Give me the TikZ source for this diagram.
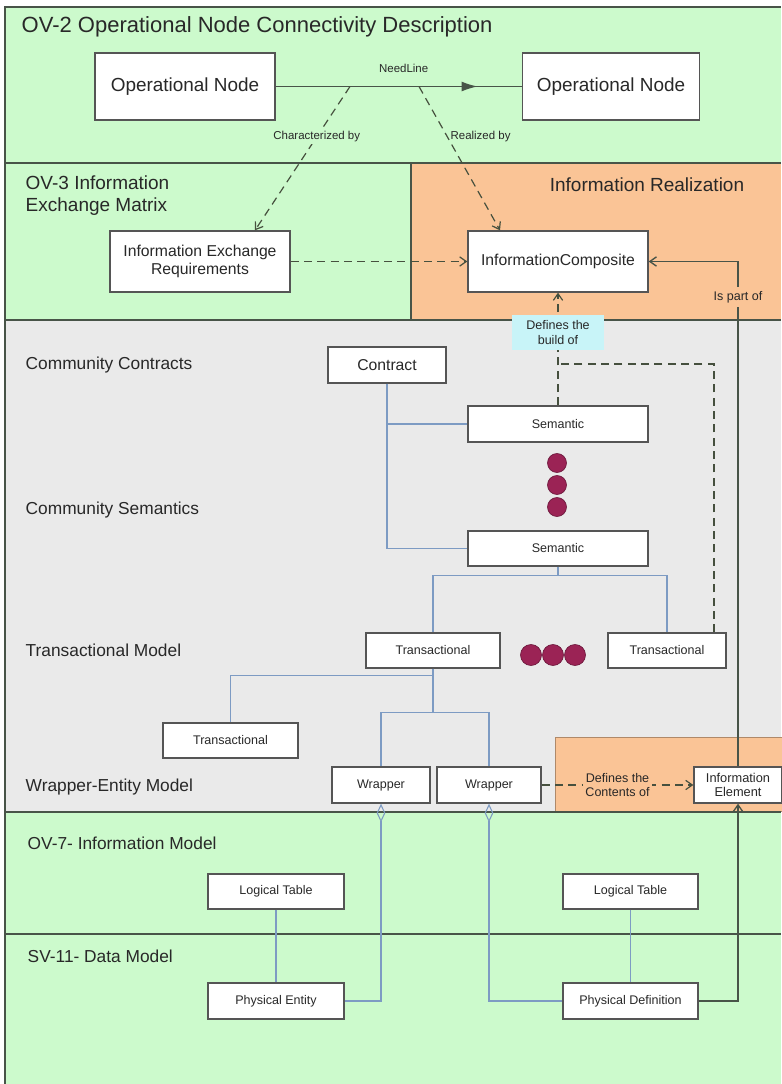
\documentclass[tikz,border=0pt]{standalone}
\usepackage{fontspec}
\setmainfont{Liberation Sans}
\usetikzlibrary{arrows.meta,calc,decorations.markings}
\definecolor{ovgreen}{RGB}{204,250,204}
\definecolor{ovorange}{RGB}{250,196,150}
\definecolor{svgray}{RGB}{234,234,234}
\definecolor{frameline}{RGB}{72,84,72}
\definecolor{boxline}{RGB}{85,85,85}
\definecolor{treeblue}{RGB}{125,155,195}
\definecolor{depline}{RGB}{70,80,62}
\definecolor{dotred}{RGB}{155,35,85}
\definecolor{labelcyan}{RGB}{200,244,248}
\definecolor{txt}{RGB}{40,40,40}
\begin{document}
\begin{tikzpicture}[x=0.75pt,y=-0.75pt,>={Straight Barb[length=5pt,width=7pt]},
 sz/.style 2 args={minimum width=#1*0.75pt,minimum height=#2*0.75pt},
 box/.style={draw=boxline,fill=white,line width=1pt,inner sep=1pt,align=center,text=txt},
 titletxt/.style={font=\fontsize{16.5}{19}\selectfont},
 optxt/.style={font=\fontsize{14.2}{17}\selectfont},
 headtxt/.style={font=\fontsize{14.25}{16.5}\selectfont,text=txt},
 secttxt/.style={anchor=west,text=txt,font=\fontsize{13}{15}\selectfont},
 midtxt/.style={font=\fontsize{11.8}{13.5}\selectfont},
 smalltxt/.style={font=\fontsize{9.4}{11.2}\selectfont,text=txt},
 lbl/.style={font=\fontsize{8.6}{10}\selectfont,text=txt,inner sep=1pt},
 secline/.style={draw=frameline,line width=1.1pt},
 link/.style={draw=treeblue,line width=0.8pt},
 dep/.style={draw=depline,line width=0.9pt,dash pattern=on 6pt off 4pt},
 rail/.style={draw=frameline,line width=1pt},
 dotc/.style={fill=dotred,draw=dotred!70!black,line width=0.5pt},
 agg/.style={{Diamond[open,length=14pt,width=6.5pt]}-}]
 \useasboundingbox (0,0) rectangle (781,1084);
 \fill[ovgreen] (5,7) rectangle (781,1084);
 \fill[ovorange] (411,163) rectangle (781,320);
 \fill[svgray] (5,320) rectangle (781,812);
 \filldraw[fill=ovorange,draw=ovorange!70!black,line width=0.6pt] (555,737) rectangle (790,811);
 \draw[secline] (5,1084) -- (5,7) -- (781,7);
 \draw[secline] (5,163) -- (781,163);
 \draw[secline] (411,163) -- (411,320);
 \draw[secline] (5,320) -- (781,320);
 \draw[secline] (5,812) -- (781,812);
 \draw[secline] (5,934) -- (781,934);

 \node[anchor=west,titletxt,text=txt] (ttl) at (17,27) {OV-2 Operational Node Connectivity Description};
 \node[anchor=west,headtxt,align=left] (ov3) at (21,196) {OV-3 Information\\Exchange Matrix};
 \node[headtxt] (irl) at (647,185) {Information Realization};
 \node[secttxt] (cc) at (21,365) {Community Contracts};
 \node[secttxt] (cs) at (21,510) {Community Semantics};
 \node[secttxt] (tm) at (21,650) {Transactional Model};
 \node[secttxt] (wem) at (21,787) {Wrapper-Entity Model};
 \node[secttxt] (ov7) at (23,843) {OV-7- Information Model};
 \node[secttxt] (sv11) at (23,956) {SV-11- Data Model};

 \node[box,optxt,sz={180}{67}] (op1) at (185,86.5) {Operational Node};
 \node[box,optxt,sz={177}{67}] (op2) at (611,86.5) {Operational Node};
 \node[box,midtxt,sz={180}{61}] (ier) at (200,261.5) {Information Exchange\\Requirements};
 \node[box,midtxt,sz={180}{61}] (ic) at (558,261.5) {InformationComposite};
 \node[box,midtxt,sz={118}{36}] (con) at (387,365) {Contract};
 \node[box,smalltxt,sz={180}{36}] (sem1) at (558,424) {Semantic};
 \node[box,smalltxt,sz={180}{35}] (sem2) at (558,548.5) {Semantic};
 \node[box,smalltxt,sz={134}{35}] (trL) at (433,650.5) {Transactional};
 \node[box,smalltxt,sz={118}{35}] (trR) at (667,650.5) {Transactional};
 \node[box,smalltxt,sz={135}{35}] (tr3) at (230.5,740.5) {Transactional};
 \node[box,smalltxt,sz={98}{36}] (wr1) at (381,785) {Wrapper};
 \node[box,smalltxt,sz={104}{36}] (wr2) at (489,785) {Wrapper};
 \node[box,smalltxt,sz={88}{36},font=\fontsize{9.6}{10.8}\selectfont] (ie) at (738,785) {Information\\Element};
 \node[box,smalltxt,sz={136}{35}] (lt1) at (276,891.5) {Logical Table};
 \node[box,smalltxt,sz={135}{35}] (lt2) at (630.5,891.5) {Logical Table};
 \node[box,smalltxt,sz={136}{36}] (pe) at (276,1001) {Physical Entity};
 \node[box,smalltxt,sz={135}{36}] (pd) at (630.5,1001) {Physical Definition};

 \foreach \y in {463,485,507} \filldraw[dotc] (557,\y) circle (9.5);
 \foreach \x in {531,553,575} \filldraw[dotc] (\x,655) circle (10.5);

 \draw[rail,postaction={decorate},decoration={markings,mark=at position 0.82 with {\arrow{Latex[length=12pt,width=7.5pt]}}}]
  (op1) -- node[lbl,pos=0.52,above=9pt] (nl) {NeedLine} (op2);
 \coordinate (cb) at (350,86.5);
 \coordinate (rb) at (419,86.5);
 \draw[dep,->] (cb) -- node[lbl,pos=0.35,fill=ovgreen] (chl) {Characterized by} ($(ier.north)+(55,0)$);
 \draw[dep,->] (rb) -- node[lbl,pos=0.35,anchor=west,xshift=1pt] (rzl) {Realized by} ($(ic.north)+(-58,0)$);
 \draw[dep,->] (ier) -- (ic);
 \draw[dep,->] (sem1) -- node[pos=0.65,fill=labelcyan,smalltxt,sz={92}{35},align=center,inner sep=1pt] (dbl) {Defines the\\build of} (ic);
 \coordinate (dj) at (714,364);
 \draw[dep] (trR.north -| dj) |- (sem1.north |- dj);
 \draw[dep,->] (wr2) -- node[fill=ovorange,smalltxt,align=center,inner sep=2pt] (dcl) {Defines the\\Contents of} (ie);
 \draw[rail,->] (ie) |- node[pos=0.465,fill=ovorange,smalltxt,inner sep=3pt] (ipl) {Is part of} (ic);
 \draw[rail,->] (pd) -| (ie);

 \draw[link] (con) |- (sem1);
 \draw[link] (con) |- (sem2);
 \draw[link] (sem2) -- ++(0,27) coordinate (sj) -| (trL);
 \draw[link] (sj) -| (trR);
 \draw[link] (trL) -- ++(0,25) -| (tr3);
 \draw[link] (trL) -- ++(0,62) coordinate (wj) -| (wr1);
 \draw[link] (wj) -| (wr2);
 \draw[link,agg] (wr1) |- (pe);
 \draw[link,agg] (wr2) |- (pd);
 \draw[link] (lt1) -- (pe);
 \draw[link] (lt2) -- (pd);
\end{tikzpicture}
\end{document}
